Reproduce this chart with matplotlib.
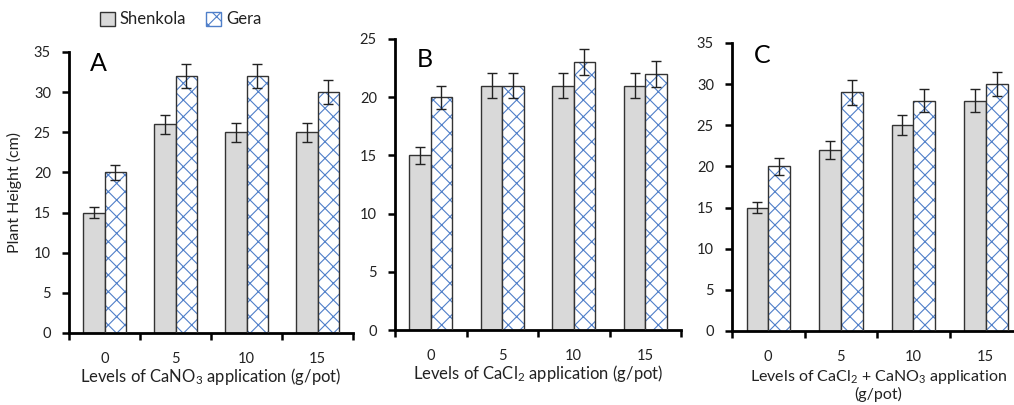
import matplotlib
matplotlib.use("Agg")
import matplotlib.pyplot as plt
from matplotlib.patches import Patch
import numpy as np

plt.rcParams['font.family'] = ['Lato', 'DejaVu Sans']
plt.rcParams['mathtext.fontset'] = 'custom'
plt.rcParams['mathtext.rm'] = 'Lato'
plt.rcParams['mathtext.it'] = 'Lato'
plt.rcParams['hatch.linewidth'] = 0.8

levels = ['0', '5', '10', '15']

a_shenkola = [15, 26, 25, 25]
a_shenkola_err = [0.7, 1.2, 1.2, 1.2]
a_gera = [20, 32, 32, 30]
a_gera_err = [0.9, 1.5, 1.5, 1.5]

b_shenkola = [15, 21, 21, 21]
b_shenkola_err = [0.75, 1.1, 1.1, 1.1]
b_gera = [20, 21, 23, 22]
b_gera_err = [1.0, 1.1, 1.1, 1.1]

c_shenkola = [15, 22, 25, 28]
c_shenkola_err = [0.7, 1.1, 1.2, 1.4]
c_gera = [20, 29, 28, 30]
c_gera_err = [1.0, 1.5, 1.4, 1.5]

panels = [
    dict(letter='A', s=a_shenkola, se=a_shenkola_err, g=a_gera, ge=a_gera_err, ymax=35,
         xlabel='Levels of CaNO$_3$ application (g/pot)', xfs=12,
         rect=[69/1014, (405-333)/405, 284/1014, 281/405], lpos=(0.072, 1.0)),
    dict(letter='B', s=b_shenkola, se=b_shenkola_err, g=b_gera, ge=b_gera_err, ymax=25,
         xlabel='Levels of CaCl$_2$ application (g/pot)', xfs=12,
         rect=[395/1014, (405-330)/405, 286/1014, 291/405], lpos=(0.075, 0.97)),
    dict(letter='C', s=c_shenkola, se=c_shenkola_err, g=c_gera, ge=c_gera_err, ymax=35,
         xlabel='Levels of CaCl$_2$ + CaNO$_3$ application\n(g/pot)', xfs=11.5,
         rect=[732/1014, (405-331)/405, 290/1014, 288/405], lpos=(0.077, 0.995)),
]

gray = '#d9d9d9'
hatch_col = '#4f7fc9'
txt = '#222222'

fig = plt.figure(figsize=(10.14, 4.05), dpi=100)
x = np.arange(len(levels))
w = 0.3
for i, p in enumerate(panels):
    ax = fig.add_axes(p['rect'])
    ax.bar(x - w/2, p['s'], w, color=gray, edgecolor='#333333', linewidth=1.0, zorder=2)
    ax.bar(x + w/2, p['g'], w, color='white', edgecolor=hatch_col, hatch='xx', linewidth=0, zorder=2)
    ax.bar(x + w/2, p['g'], w, color='none', edgecolor='#333333', linewidth=1.0, zorder=3)
    ax.errorbar(x - w/2, p['s'], yerr=p['se'], fmt='none', ecolor='#222222', elinewidth=1.0,
                capsize=3.5, capthick=1.0, zorder=4)
    ax.errorbar(x + w/2, p['g'], yerr=p['ge'], fmt='none', ecolor='#222222', elinewidth=1.0,
                capsize=3.5, capthick=1.0, zorder=4)
    ax.set_xlim(-0.5, 3.5)
    ax.set_ylim(0, p['ymax'])
    ax.set_yticks(np.arange(0, p['ymax'] + 1, 5))
    ax.set_xticks(x)
    ax.set_xticklabels(levels)
    ax.set_xticks(np.arange(-0.5, 4.0, 1.0), minor=True)
    ax.tick_params(axis='x', which='major', length=0, pad=14, labelsize=10.5, labelcolor=txt)
    ax.tick_params(axis='x', which='minor', length=5, width=1.8, direction='out')
    ax.tick_params(axis='y', which='major', length=5, width=1.8, direction='out', labelsize=10.5,
                   labelcolor=txt, pad=8)
    for sp in ['top', 'right']:
        ax.spines[sp].set_visible(False)
    for sp in ['left', 'bottom']:
        ax.spines[sp].set_linewidth(2.0)
        ax.spines[sp].set_color('black')
    ax.set_xlabel(p['xlabel'], fontsize=p['xfs'], color=txt, labelpad=0, linespacing=1.0)
    ax.text(p['lpos'][0], p['lpos'][1], p['letter'], transform=ax.transAxes, fontsize=18,
            va='top', ha='left', color='black')
    if i == 0:
        ax.set_ylabel('Plant Height (cm)', fontsize=11.5, color=txt)
        ax.yaxis.set_label_coords(-0.165, 0.5)
    if i == 2:
        ax.xaxis.set_label_coords(0.505, -0.13)

handles = [Patch(facecolor=gray, edgecolor='#333333', linewidth=1.0, label='Shenkola'),
           Patch(facecolor='white', edgecolor=hatch_col, hatch='xx', linewidth=1.0, label='Gera')]
leg = fig.legend(handles=handles, loc='center', bbox_to_anchor=(0.178, 0.952), ncol=2, frameon=False,
                 fontsize=12, handlelength=0.9, handleheight=0.9, handletextpad=0.3, columnspacing=1.2)
for t in leg.get_texts():
    t.set_color(txt)

fig.savefig('out.png', dpi=100)
